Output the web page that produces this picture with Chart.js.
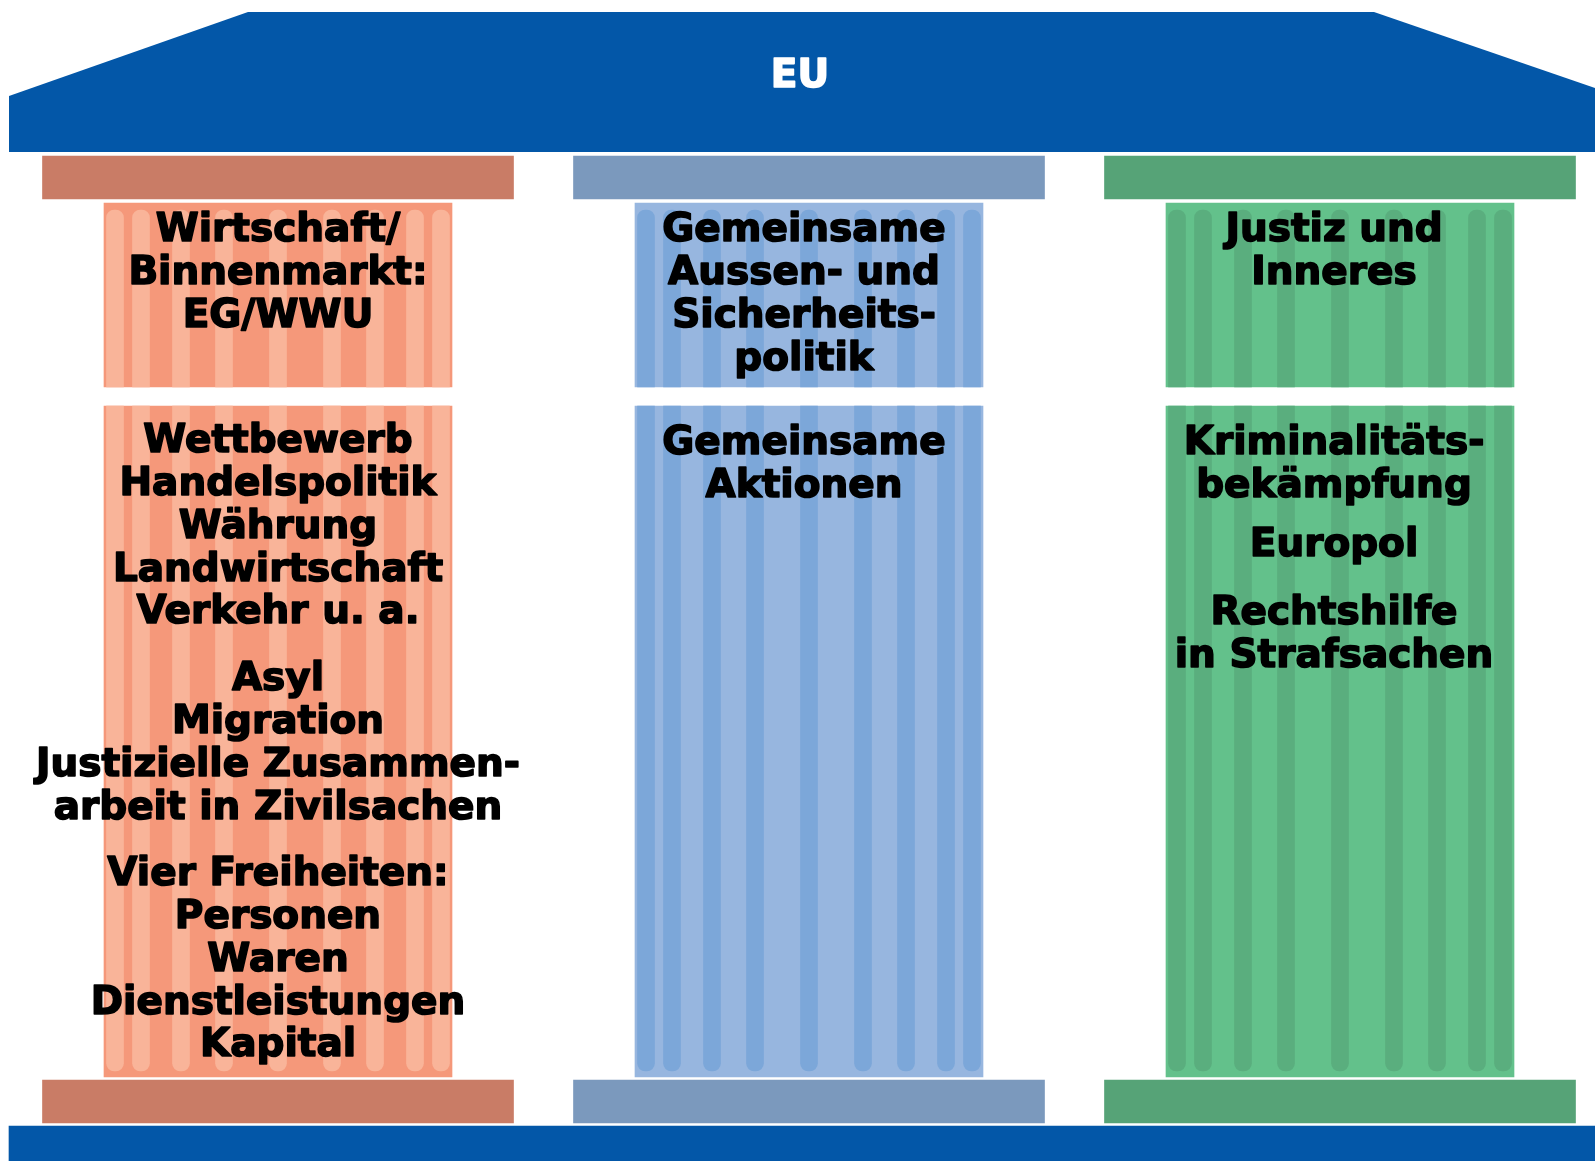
<!DOCTYPE html>
<html lang="de">
<head>
<meta charset="utf-8">
<title>Die drei Säulen der EU</title>
<script src="https://cdn.jsdelivr.net/npm/chart.js@4.4.1/dist/chart.umd.min.js"></script>
<style>
  html, body { margin: 0; padding: 0; background: #fff; overflow: hidden; }
  #wrap { width: 1595px; height: 1161px; position: relative; }
</style>
</head>
<body>
<div id="wrap"><canvas id="pillars"></canvas></div>
<script>
// --- data: what the temple says ---
const roofLabel = 'EU';
const pillarKeys = ['EG', 'GASP', 'ZBJI'];
const pillarHeads = [
  ['Wirtschaft/', 'Binnenmarkt:', 'EG/WWU'],
  ['Gemeinsame', 'Aussen- und', 'Sicherheits-', 'politik'],
  ['Justiz und', 'Inneres']
];
const pillarItemsEG = [
  ['Wettbewerb', 'Handelspolitik', 'Währung', 'Landwirtschaft', 'Verkehr u. a.'],
  ['Asyl', 'Migration', 'Justizielle Zusammen-', 'arbeit in Zivilsachen'],
  ['Vier Freiheiten:', 'Personen', 'Waren', 'Dienstleistungen', 'Kapital']
];
const pillarItemsGASP = [
  ['Gemeinsame', 'Aktionen']
];
const pillarItemsZBJI = [
  ['Kriminalitäts-', 'bekämpfung'],
  ['Europol'],
  ['Rechtshilfe', 'in Strafsachen']
];
const pillarItems = [pillarItemsEG, pillarItemsGASP, pillarItemsZBJI];

// --- layout (diagram units = canvas pixels) ---
const W = 1595, H = 1161;
const pillarX = [278, 809, 1340];
const textShift = [0, -5, -6];
const shaftWidth = 348, capWidth = 471, stripeWidth = 17;
const stripeOffsets = [-163, -137, -97, -54, 0, 54, 97, 137, 163];
const roofLine = [[9, 96], [248, 12], [1374, 12], [1595, 88]];
const roofBottom = 152;
const capTop = [156, 199];
const shaftUpper = [203, 387];
const shaftLower = [406, 1077];
const stripeUpper = [210, 387];
const stripeLower = [406, 1071];
const capBase = [1080, 1123];
const baseBar = [1126, 1161];
const headY = 231;
const groupY = [[442, 680, 875], [444], [444, 546, 614]];
const lineGap = 42.8;

// --- styles ---
const blue = '#0357a8';
const capColors = ['#c97c66', '#7b99bd', '#56a377'];
const shaftColors = ['#f5987a', '#97b6df', '#63c18b'];
const stripeColors = ['#f9b499', '#7ca7d9', '#5aae7e'];
const textFont = 'bold 39px "DejaVu Sans"';

function bars(label, points, colors, thickness, order, radius) {
  return {
    type: 'bar',
    label: label,
    data: points,
    backgroundColor: colors,
    barThickness: thickness,
    borderRadius: radius || 0,
    borderSkipped: false,
    stack: 'temple',
    order: order
  };
}

const stripePoints = range => pillarX.flatMap(cx => stripeOffsets.map(o => ({ x: cx + o, y: range })));
const stripeFill = stripeColors.flatMap(c => stripeOffsets.map(() => c));

const templeText = {
  id: 'templeText',
  afterDatasetsDraw(chart) {
    const { ctx, scales: { x, y } } = chart;
    const put = (s, px, py) => {
      ctx.strokeText(s, px, py);
      ctx.fillText(s, px, py);
    };
    ctx.save();
    ctx.textAlign = 'center';
    ctx.textBaseline = 'middle';
    ctx.lineJoin = 'round';
    ctx.lineWidth = 1.6;
    ctx.font = textFont;
    ctx.fillStyle = ctx.strokeStyle = '#fff';
    put(roofLabel, x.getPixelForValue(800), y.getPixelForValue(77));
    ctx.fillStyle = ctx.strokeStyle = '#000';
    pillarKeys.forEach((key, i) => {
      const cx = x.getPixelForValue(pillarX[i] + textShift[i]);
      pillarHeads[i].forEach((line, j) => {
        put(line, cx, y.getPixelForValue(headY + j * lineGap));
      });
      pillarItems[i].forEach((group, g) => {
        group.forEach((line, j) => {
          put(line, cx, y.getPixelForValue(groupY[i][g] + j * lineGap));
        });
      });
    });
    ctx.restore();
  }
};

new Chart(document.getElementById('pillars'), {
  type: 'bar',
  data: {
    datasets: [
      bars('Kanneluren oben', stripePoints(stripeUpper), stripeFill, stripeWidth, 0,
        { topLeft: 8, topRight: 8, bottomLeft: 0, bottomRight: 0 }),
      bars('Kanneluren unten', stripePoints(stripeLower), stripeFill, stripeWidth, 0,
        { topLeft: 0, topRight: 0, bottomLeft: 8, bottomRight: 8 }),
      bars('Säule oben', pillarX.map(cx => ({ x: cx, y: shaftUpper })), shaftColors, shaftWidth, 1),
      bars('Säule unten', pillarX.map(cx => ({ x: cx, y: shaftLower })), shaftColors, shaftWidth, 1),
      bars('Kapitell', pillarX.map(cx => ({ x: cx, y: capTop })), capColors, capWidth, 2),
      bars('Basis', pillarX.map(cx => ({ x: cx, y: capBase })), capColors, capWidth, 2),
      bars('Sockel', [{ x: (9 + W) / 2, y: baseBar }], blue, W - 9, 2),
      {
        type: 'line',
        label: 'Dach',
        data: roofLine.map(p => ({ x: p[0], y: p[1] })),
        borderColor: blue,
        borderWidth: 0,
        backgroundColor: blue,
        pointRadius: 0,
        tension: 0,
        fill: { value: roofBottom },
        order: 3
      }
    ]
  },
  options: {
    responsive: true,
    maintainAspectRatio: false,
    animation: false,
    layout: { padding: 0 },
    plugins: { legend: { display: false }, tooltip: { enabled: false } },
    scales: {
      x: { type: 'linear', min: 0, max: W, offset: false, display: false },
      y: { type: 'linear', min: 0, max: H, reverse: true, stacked: false, display: false }
    }
  },
  plugins: [templeText]
});
</script>
</body>
</html>
